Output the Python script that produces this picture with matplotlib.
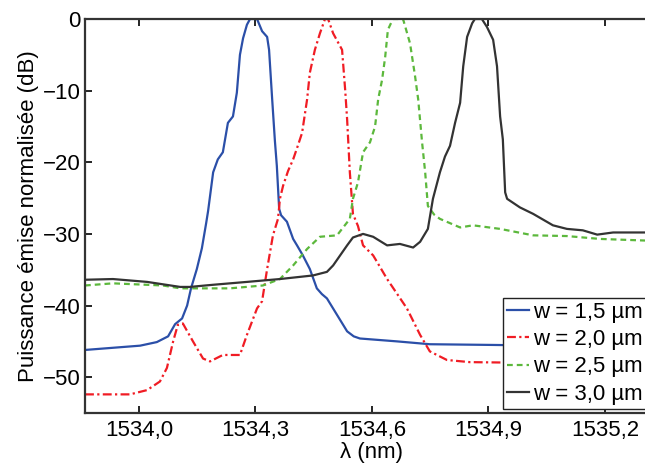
import numpy as np
import matplotlib.pyplot as plt
from matplotlib.ticker import FuncFormatter

plt.rcParams['font.family'] = ['Liberation Sans', 'DejaVu Sans']

# w = 1,5 um
x15 = [1533.861, 1534.003, 1534.046, 1534.075, 1534.093, 1534.111, 1534.124, 1534.134,
       1534.149, 1534.162, 1534.173, 1534.178, 1534.191, 1534.203, 1534.216, 1534.229,
       1534.242, 1534.252, 1534.260, 1534.268, 1534.278, 1534.286, 1534.304, 1534.317,
       1534.330, 1534.335, 1534.343, 1534.350, 1534.355, 1534.361, 1534.366, 1534.381,
       1534.397, 1534.407, 1534.422, 1534.440, 1534.458, 1534.471, 1534.484, 1534.510,
       1534.536, 1534.553, 1534.569, 1534.664, 1534.749, 1534.912, 1535.342]
y15 = [-46.2, -45.6, -45.1, -44.3, -42.6, -41.8, -40.0, -37.6,
       -34.9, -32.0, -28.5, -26.8, -21.4, -19.6, -18.6, -14.5,
       -13.6, -10.3, -5.0, -2.7, -0.8, 0.0, 0.0, -1.7,
       -2.5, -4.3, -11.2, -17.0, -20.5, -26.5, -27.4, -28.3,
       -30.7, -31.6, -33.0, -34.9, -37.6, -38.4, -39.0, -41.3,
       -43.6, -44.3, -44.6, -45.0, -45.4, -45.5, -45.8]

# w = 2,0 um
x20 = [1533.861, 1533.977, 1534.021, 1534.054, 1534.072, 1534.088, 1534.100, 1534.113,
       1534.139, 1534.165, 1534.183, 1534.216, 1534.260, 1534.278, 1534.304, 1534.317,
       1534.330, 1534.345, 1534.358, 1534.363, 1534.371, 1534.384, 1534.397, 1534.409,
       1534.420, 1534.433, 1534.440, 1534.453, 1534.466, 1534.479, 1534.487, 1534.500,
       1534.523, 1534.531, 1534.536, 1534.543, 1534.551, 1534.564, 1534.577, 1534.603,
       1534.614, 1534.639, 1534.690, 1534.724, 1534.749, 1534.793, 1534.852, 1535.342]
y20 = [-52.4, -52.4, -51.8, -50.6, -48.7, -45.0, -42.7, -42.5,
       -45.0, -47.4, -47.8, -46.9, -46.9, -44.1, -40.4, -39.4,
       -34.9, -30.2, -27.9, -25.1, -23.3, -21.2, -19.6, -17.7,
       -15.9, -11.2, -7.5, -4.3, -2.0, 0.0, 0.0, -2.0,
       -4.3, -9.9, -14.0, -21.4, -27.2, -28.9, -31.6, -33.0,
       -34.0, -36.3, -40.4, -44.1, -46.4, -47.6, -47.9, -48.2]

# w = 2,5 um
x25 = [1533.861, 1533.933, 1534.062, 1534.106, 1534.234, 1534.319, 1534.363, 1534.397,
       1534.433, 1534.466, 1534.510, 1534.543, 1534.551, 1534.564, 1534.577, 1534.595,
       1534.608, 1534.616, 1534.626, 1534.634, 1534.641, 1534.654, 1534.680, 1534.698,
       1534.711, 1534.719, 1534.729, 1534.737, 1534.744, 1534.760, 1534.775, 1534.827,
       1534.860, 1534.930, 1535.015, 1535.102, 1535.187, 1535.342]
y25 = [-37.2, -36.9, -37.2, -37.6, -37.6, -37.2, -36.3, -34.4,
       -32.1, -30.4, -30.2, -27.9, -25.1, -22.8, -18.6, -17.2,
       -15.0, -11.2, -8.5, -5.3, -1.5, 0.0, 0.0, -3.4,
       -8.0, -11.2, -17.2, -21.4, -26.1, -27.3, -27.9, -29.1,
       -28.8, -29.3, -30.2, -30.3, -30.7, -31.0]

# w = 3,0 um
x30 = [1533.861, 1533.933, 1534.021, 1534.106, 1534.131, 1534.191, 1534.278, 1534.363,
       1534.448, 1534.484, 1534.500, 1534.518, 1534.536, 1534.551, 1534.577, 1534.603,
       1534.639, 1534.672, 1534.706, 1534.724, 1534.744, 1534.757, 1534.775, 1534.788,
       1534.801, 1534.814, 1534.827, 1534.835, 1534.845, 1534.858, 1534.865, 1534.883,
       1534.896, 1534.912, 1534.922, 1534.930, 1534.937, 1534.943, 1534.948, 1534.981,
       1535.015, 1535.066, 1535.102, 1535.143, 1535.180, 1535.221, 1535.342]
y30 = [-36.4, -36.3, -36.7, -37.4, -37.4, -37.1, -36.7, -36.3,
       -35.8, -35.3, -34.4, -33.0, -31.6, -30.5, -30.0, -30.4,
       -31.6, -31.4, -31.9, -31.1, -29.3, -25.1, -21.4, -19.2,
       -17.7, -14.5, -11.7, -6.6, -2.5, -0.6, 0.0, 0.0,
       -1.1, -2.9, -6.6, -13.6, -16.8, -24.2, -25.1, -26.3,
       -27.2, -28.8, -29.3, -29.5, -30.1, -29.8, -29.8]

xticks = [1534.0, 1534.3, 1534.6, 1534.9, 1535.2]
yticks = [0, -10, -20, -30, -40, -50]

fig = plt.figure(figsize=(6.45, 4.68), dpi=100)
# l'axe depasse a droite (bord droit coupe comme sur l'original)
ax = fig.add_axes([85 / 645, 55 / 468, 572 / 645, 394 / 468])

ax.plot(x15, y15, color='#2b4fa8', lw=1.6, label='w = 1,5 µm')
ax.plot(x20, y20, color='#f01c24', lw=1.6, ls=(0, (4, 1.5, 1, 1.5)), label='w = 2,0 µm')
ax.plot(x25, y25, color='#5cb83c', lw=1.6, ls=(0, (2.6, 1.8)), label='w = 2,5 µm')
ax.plot(x30, y30, color='#333333', lw=1.6, label='w = 3,0 µm')

ax.set_xlim(1533.861, 1535.334)
ax.set_ylim(-55, 0)
ax.set_xticks(xticks)
ax.set_yticks(yticks)
ax.xaxis.set_major_formatter(FuncFormatter(lambda v, p: ('%.1f' % v).replace('.', ',')))
ax.yaxis.set_major_formatter(FuncFormatter(lambda v, p: ('%d' % round(v)).replace('-', '\u2212')))
ax.tick_params(direction='in', top=True, right=True, labelsize=16, length=5, width=1.2)
ax.tick_params(axis='x', pad=5)
ax.tick_params(axis='y', pad=3)
for s in ax.spines.values():
    s.set_linewidth(1.6)
    s.set_color('#333333')

ax.set_xlabel('λ (nm)', fontsize=16, labelpad=1)
ax.set_ylabel('Puissance émise normalisée (dB)', fontsize=16, labelpad=3)

leg = ax.legend(loc='lower right', bbox_to_anchor=(0.9825, 0.01), fontsize=16,
                handlelength=1.0, handletextpad=0.15, borderpad=0.2, labelspacing=0.28,
                borderaxespad=0, fancybox=False, framealpha=1)
leg.get_frame().set_edgecolor('#222222')
leg.get_frame().set_linewidth(1.0)

fig.savefig('out.png', dpi=100)
